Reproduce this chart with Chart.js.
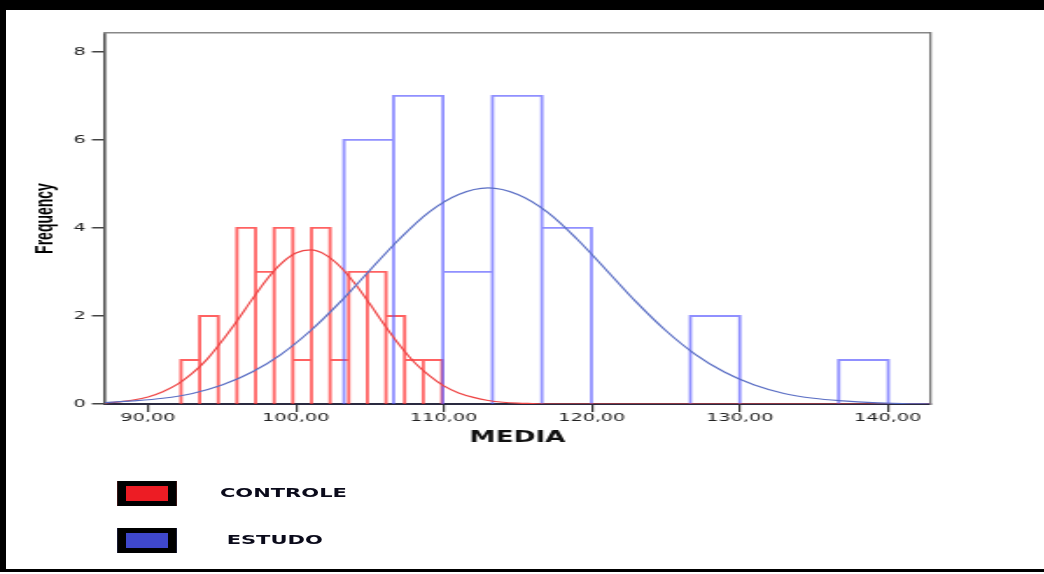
<!DOCTYPE html>
<html>
<head>
<meta charset="utf-8">
<script src="https://cdn.jsdelivr.net/npm/chart.js@4/dist/chart.umd.min.js"></script>
<style>
  html, body { margin:0; padding:0; background:#fff; overflow:hidden; }
  #frame { position:absolute; left:0; top:0; width:1044px; height:572px; box-sizing:border-box;
           border-top:10px solid #000; border-left:6px solid #000; border-bottom:3px solid #000; }
  /* the original picture is stretched sideways, so the whole chart is drawn narrow and scaled */
  #wrap { position:absolute; left:0; top:0; width:597px; height:574px; transform:scaleX(1.75); transform-origin:0 0; }
  #chart { position:absolute; left:0; top:0; }
  .lbox { position:absolute; left:66.9px; width:34.3px; height:25px; box-sizing:border-box;
          border-style:solid; border-color:#000; border-width:5px 5.7px; }
  .ltext { position:absolute; font:bold 12px 'DejaVu Sans', sans-serif; color:#0a0a1a; line-height:14px; white-space:nowrap; }
</style>
</head>
<body>
<div id="frame"></div>
<div id="wrap">
  <canvas id="chart" width="597" height="574"></canvas>
</div>
<script>
// ----- data -----
const seriesNames = ['CONTROLE', 'ESTUDO'];

// CONTROLE histogram (bin edges + counts)
const controleEdges = [92.23, 93.49, 94.75, 96.01, 97.27, 98.53, 99.79, 101.05, 102.31, 103.57, 104.83, 106.09, 107.35, 108.61, 109.87];
const controleCounts = [1, 2, 0, 4, 3, 4, 1, 4, 1, 3, 3, 2, 1, 1];

// ESTUDO histogram
const estudoEdges = [103.25, 106.6, 109.94, 113.29, 116.63, 119.98, 123.32, 126.67, 130.01, 133.36, 136.7, 140.05];
const estudoCounts = [6, 7, 3, 7, 4, 0, 0, 2, 0, 0, 1];

// normal curves
const controleCurveX = [87,88,89,90,91,92,93,94,95,96,97,98,99,100,101,102,103,104,105,106,107,108,109,110,111,112,113,114,115,116,117,120,130,143];
const controleCurveY = [0.02,0.05,0.09,0.16,0.28,0.45,0.70,1.02,1.43,1.88,2.36,2.82,3.19,3.43,3.50,3.39,3.12,2.73,2.27,1.79,1.34,0.95,0.65,0.41,0.25,0.15,0.08,0.04,0.02,0.01,0,0,0,0];

const estudoCurveX = [87,89,91,93,95,97,99,101,103,105,107,109,111,113,115,117,119,121,123,125,127,129,131,133,135,137,139,141,143];
const estudoCurveY = [0.03,0.07,0.13,0.24,0.43,0.72,1.13,1.67,2.32,3.04,3.75,4.36,4.76,4.91,4.76,4.36,3.75,3.04,2.32,1.67,1.13,0.72,0.43,0.24,0.13,0.07,0.03,0.01,0.00];

// axes
const xTickValues = [90, 100, 110, 120, 130, 140];
const xTickLabels = ['90,00', '100,00', '110,00', '120,00', '130,00', '140,00'];
const yTickValues = [0, 2, 4, 6, 8];
const xTitle = 'MEDIA';
const yTitle = 'Frequency';

const colors = ['#ed1c24', '#3f48cc'];

// each bar = open rectangle (left side, top, right side), gap between bars
function outline(edges, counts) {
  const pts = [];
  counts.forEach((c, i) => {
    if (!c) return;
    const l = edges[i], r = edges[i + 1];
    pts.push({x: l, y: 0}, {x: l, y: c}, {x: r, y: c}, {x: r, y: 0}, {x: r, y: null});
  });
  return pts;
}
const xy = (xs, ys) => xs.map((x, i) => ({x: x, y: ys[i]}));

const ctx = document.getElementById('chart');

new Chart(ctx, {
  type: 'line',
  data: {
    datasets: [
      { label: seriesNames[0], data: outline(controleEdges, controleCounts), order: 4,
        borderColor: 'rgba(255,45,45,0.75)', borderWidth: 1.8, pointRadius: 0, tension: 0, spanGaps: false },
      { label: seriesNames[1], data: outline(estudoEdges, estudoCounts), order: 3,
        borderColor: 'rgba(85,85,255,0.65)', borderWidth: 1.8, pointRadius: 0, tension: 0, spanGaps: false },
      { label: seriesNames[0] + ' normal', data: xy(controleCurveX, controleCurveY), order: 2,
        borderColor: '#ee4444', borderWidth: 1.2, pointRadius: 0, cubicInterpolationMode: 'monotone' },
      { label: seriesNames[1] + ' normal', data: xy(estudoCurveX, estudoCurveY), order: 1,
        borderColor: '#5a6ec4', borderWidth: 1.2, pointRadius: 0, cubicInterpolationMode: 'monotone' }
    ]
  },
  options: {
    responsive: false,
    animation: false,
    events: [],
    layout: { padding: { left: 18, top: 33, right: 65.6, bottom: 127 } },
    plugins: { legend: { display: false }, tooltip: { enabled: false } },
    scales: {
      x: {
        type: 'linear', position: 'bottom', min: 87.09, max: 142.87,
        afterBuildTicks: (axis) => { axis.ticks = xTickValues.map(v => ({value: v})); },
        afterFit: (axis) => { axis.height = 43; },
        ticks: { autoSkip: false, maxRotation: 0, padding: 0, color: '#222',
                 font: { family: 'DejaVu Sans', size: 11 },
                 callback: (v, i) => xTickLabels[i] },
        grid: { drawOnChartArea: false, drawTicks: true, tickLength: 8, color: '#333', lineWidth: 1.2 },
        border: { display: true, color: '#2a2a40', width: 2 },
        title: { display: true, text: xTitle, color: '#111', padding: 0,
                 font: { family: 'DejaVu Sans', size: 15, weight: 'bold' } }
      },
      y: {
        type: 'linear', position: 'left', min: 0, max: 8.43,
        afterBuildTicks: (axis) => { axis.ticks = yTickValues.map(v => ({value: v})); },
        afterFit: (axis) => { axis.width = 42; },
        ticks: { padding: 3.5, color: '#222', font: { family: 'DejaVu Sans', size: 11 } },
        grid: { drawOnChartArea: false, drawTicks: true, tickLength: 7.5, color: '#444', lineWidth: 1.5 },
        border: { display: true, color: '#555', width: 1.6 },
        title: { display: true, text: yTitle, color: '#000', padding: 0,
                 font: { family: 'Liberation Sans', size: 14, weight: 'bold' } }
      },
      // top and right frame lines of the plot box
      xTop: {
        type: 'linear', position: 'top', min: 87.09, max: 142.87,
        ticks: { display: false }, grid: { drawOnChartArea: false, drawTicks: false },
        afterFit: (axis) => { axis.height = 0; },
        border: { display: true, color: '#888', width: 1.6 }
      },
      yRight: {
        type: 'linear', position: 'right', min: 0, max: 8.43,
        ticks: { display: false }, grid: { drawOnChartArea: false, drawTicks: false },
        afterFit: (axis) => { axis.width = 0; },
        border: { display: true, color: '#777', width: 1.3 }
      }
    }
  }
});

// legend under the chart
const wrap = document.getElementById('wrap');
const legendTop = [481, 528];
const legendTextLeft = [125.7, 129.5];
seriesNames.forEach((name, i) => {
  const box = document.createElement('div');
  box.className = 'lbox';
  box.style.top = legendTop[i] + 'px';
  box.style.background = colors[i];
  wrap.appendChild(box);
  const t = document.createElement('div');
  t.className = 'ltext';
  t.style.top = (legendTop[i] + 5) + 'px';
  t.style.left = legendTextLeft[i] + 'px';
  t.textContent = name;
  wrap.appendChild(t);
});
</script>
</body>
</html>
